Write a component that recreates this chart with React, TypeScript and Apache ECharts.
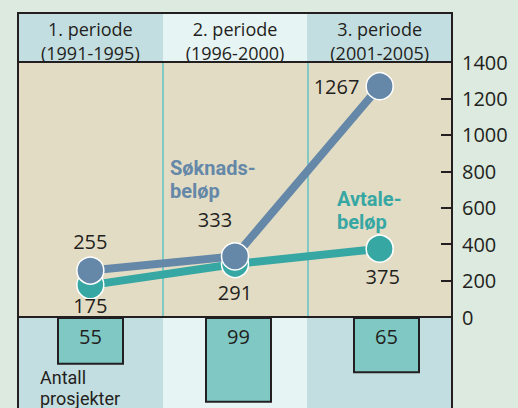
import React, { useEffect, useRef } from "react";
import * as echarts from "echarts";

const categories = ["1. periode\n(1991-1995)", "2. periode\n(1996-2000)", "3. periode\n(2001-2005)"];
const soknadsbelop = [255, 333, 1267];
const avtalebelop = [175, 291, 375];
const antallProsjekter = [55, 99, 65];
const yMin = 0;
const yMax = 1400;
const yInterval = 200;

const FONT = "'Open Sans', 'Noto Sans', sans-serif";
const FONT2 = "Roboto, 'Open Sans', sans-serif";
const TXT = "#231F20";
const BLUE = "#6588A8";
const TEAL = "#36A7A3";
const COL_DARK = "#C3DEE0";
const COL_LIGHT = "#E7F4F4";
const BEIGE = "#E3DCC4";
const PAGE = "#DCEADF";

export default function App() {
  const ref = useRef<HTMLDivElement>(null);
  useEffect(() => {
    const chart = echarts.init(ref.current!, null, { renderer: "svg" });
    const L = 18, R = 452, T = 13, H1 = 62, P1 = 317, B = 420;
    const c1 = 163, c2 = 307;
    const sLabels = [
      { position: "top", distance: 5, offset: [0, 0] },
      { position: "top", distance: 13, offset: [-20, 0] },
      { position: "left", distance: 6, offset: [0, 0] },
    ];
    const aLabels = [
      { position: "bottom", distance: -4, offset: [0, 0] },
      { position: "bottom", distance: 4, offset: [0, 0] },
      { position: "bottom", distance: 4, offset: [3, 0] },
    ];
    const lbl = { color: TXT, fontFamily: FONT, fontSize: 20, show: true };
    const boldFont = `bold 20px ${FONT2}`;
    const option: any = {
      animation: false,
      backgroundColor: PAGE,
      textStyle: { fontFamily: FONT },
      graphic: [
        { type: "rect", z: -10, shape: { x: L, y: T, width: c1 - L, height: H1 - T }, style: { fill: COL_DARK } },
        { type: "rect", z: -10, shape: { x: c1, y: T, width: c2 - c1, height: H1 - T }, style: { fill: COL_LIGHT } },
        { type: "rect", z: -10, shape: { x: c2, y: T, width: R - c2, height: H1 - T }, style: { fill: COL_DARK } },
        { type: "rect", z: -10, shape: { x: L, y: H1, width: R - L, height: P1 - H1 }, style: { fill: BEIGE } },
        { type: "rect", z: -10, shape: { x: L, y: P1, width: c1 - L, height: B - P1 }, style: { fill: COL_DARK } },
        { type: "rect", z: -10, shape: { x: c1, y: P1, width: c2 - c1, height: B - P1 }, style: { fill: COL_LIGHT } },
        { type: "rect", z: -10, shape: { x: c2, y: P1, width: R - c2, height: B - P1 }, style: { fill: COL_DARK } },
        { type: "rect", z: 50, shape: { x: L, y: T, width: R - L, height: B - T }, style: { fill: "none", stroke: TXT, lineWidth: 2 } },
        { type: "line", z: 50, shape: { x1: L, y1: H1, x2: R, y2: H1 }, style: { stroke: TXT, lineWidth: 2 } },
        { type: "line", z: 50, shape: { x1: L, y1: P1, x2: R, y2: P1 }, style: { stroke: TXT, lineWidth: 2 } },
        { type: "text", z: 50, x: 170, y: 168, style: { text: "Søknads-", fill: BLUE, font: boldFont, verticalAlign: "middle" } },
        { type: "text", z: 50, x: 170, y: 191, style: { text: "beløp", fill: BLUE, font: boldFont, verticalAlign: "middle" } },
        { type: "text", z: 50, x: 337, y: 199, style: { text: "Avtale-", fill: TEAL, font: boldFont, verticalAlign: "middle" } },
        { type: "text", z: 50, x: 337, y: 222, style: { text: "beløp", fill: TEAL, font: boldFont, verticalAlign: "middle" } },
        { type: "text", z: 50, x: 40, y: 377, style: { text: "Antall", fill: TXT, font: `18px ${FONT2}`, verticalAlign: "middle" } },
        { type: "text", z: 50, x: 40, y: 398, style: { text: "prosjekter", fill: TXT, font: `18px ${FONT2}`, verticalAlign: "middle" } },
      ],
      grid: [
        { left: L, width: R - L, top: H1, height: P1 - H1 },
        { left: 16.5, width: 444, top: P1, height: 91 },
      ],
      xAxis: [
        {
          gridIndex: 0, type: "category", data: categories, position: "top", boundaryGap: true,
          axisLine: { show: false }, axisTick: { show: false },
          axisLabel: { color: TXT, fontFamily: FONT, fontSize: 18, lineHeight: 24, margin: -3, verticalAlign: "bottom" },
          splitLine: { show: true, lineStyle: { color: "#80C9C5", width: 2 } },
        },
        { gridIndex: 1, type: "category", data: categories, show: false },
      ],
      yAxis: [
        {
          gridIndex: 0, type: "value", position: "right", min: yMin, max: yMax, interval: yInterval,
          axisLine: { show: true, lineStyle: { color: TXT, width: 2 } },
          axisTick: { show: true, inside: true, length: 11, lineStyle: { color: TXT, width: 2 } },
          axisLabel: { color: TXT, fontFamily: FONT, fontSize: 20, margin: 10, formatter: (v: number) => String(v) },
          splitLine: { show: false },
        },
        { gridIndex: 1, type: "value", inverse: true, min: 0, max: 105, show: false, splitLine: { show: false } },
      ],
      series: [
        {
          name: "Avtalebeløp", type: "line", xAxisIndex: 0, yAxisIndex: 0, z: 3,
          data: avtalebelop.map((v, i) => ({ value: v, label: { ...lbl, ...aLabels[i] } })),
          lineStyle: { color: TEAL, width: 8 }, symbol: "circle", symbolSize: 27,
          itemStyle: { color: TEAL, borderColor: "#fff", borderWidth: 1.5 },
          emphasis: { disabled: true },
        },
        {
          name: "Søknadsbeløp", type: "line", xAxisIndex: 0, yAxisIndex: 0, z: 4,
          data: soknadsbelop.map((v, i) => ({ value: v, label: { ...lbl, ...sLabels[i] } })),
          lineStyle: { color: BLUE, width: 8 }, symbol: "circle", symbolSize: 27,
          itemStyle: { color: BLUE, borderColor: "#fff", borderWidth: 1.5 },
          emphasis: { disabled: true },
        },
        {
          name: "Antall prosjekter", type: "bar", xAxisIndex: 1, yAxisIndex: 1, barWidth: 67,
          data: antallProsjekter,
          itemStyle: { color: "#7FC8C4", borderColor: TXT, borderWidth: 2 },
          label: { show: true, position: "insideTop", distance: 9, color: TXT, fontFamily: FONT, fontSize: 20 },
          emphasis: { disabled: true },
        },
      ],
    };
    chart.setOption(option);
    return () => chart.dispose();
  }, []);
  return <div ref={ref} style={{ position: "absolute", left: 0, top: 0, width: 518, height: 408 }} />;
}
